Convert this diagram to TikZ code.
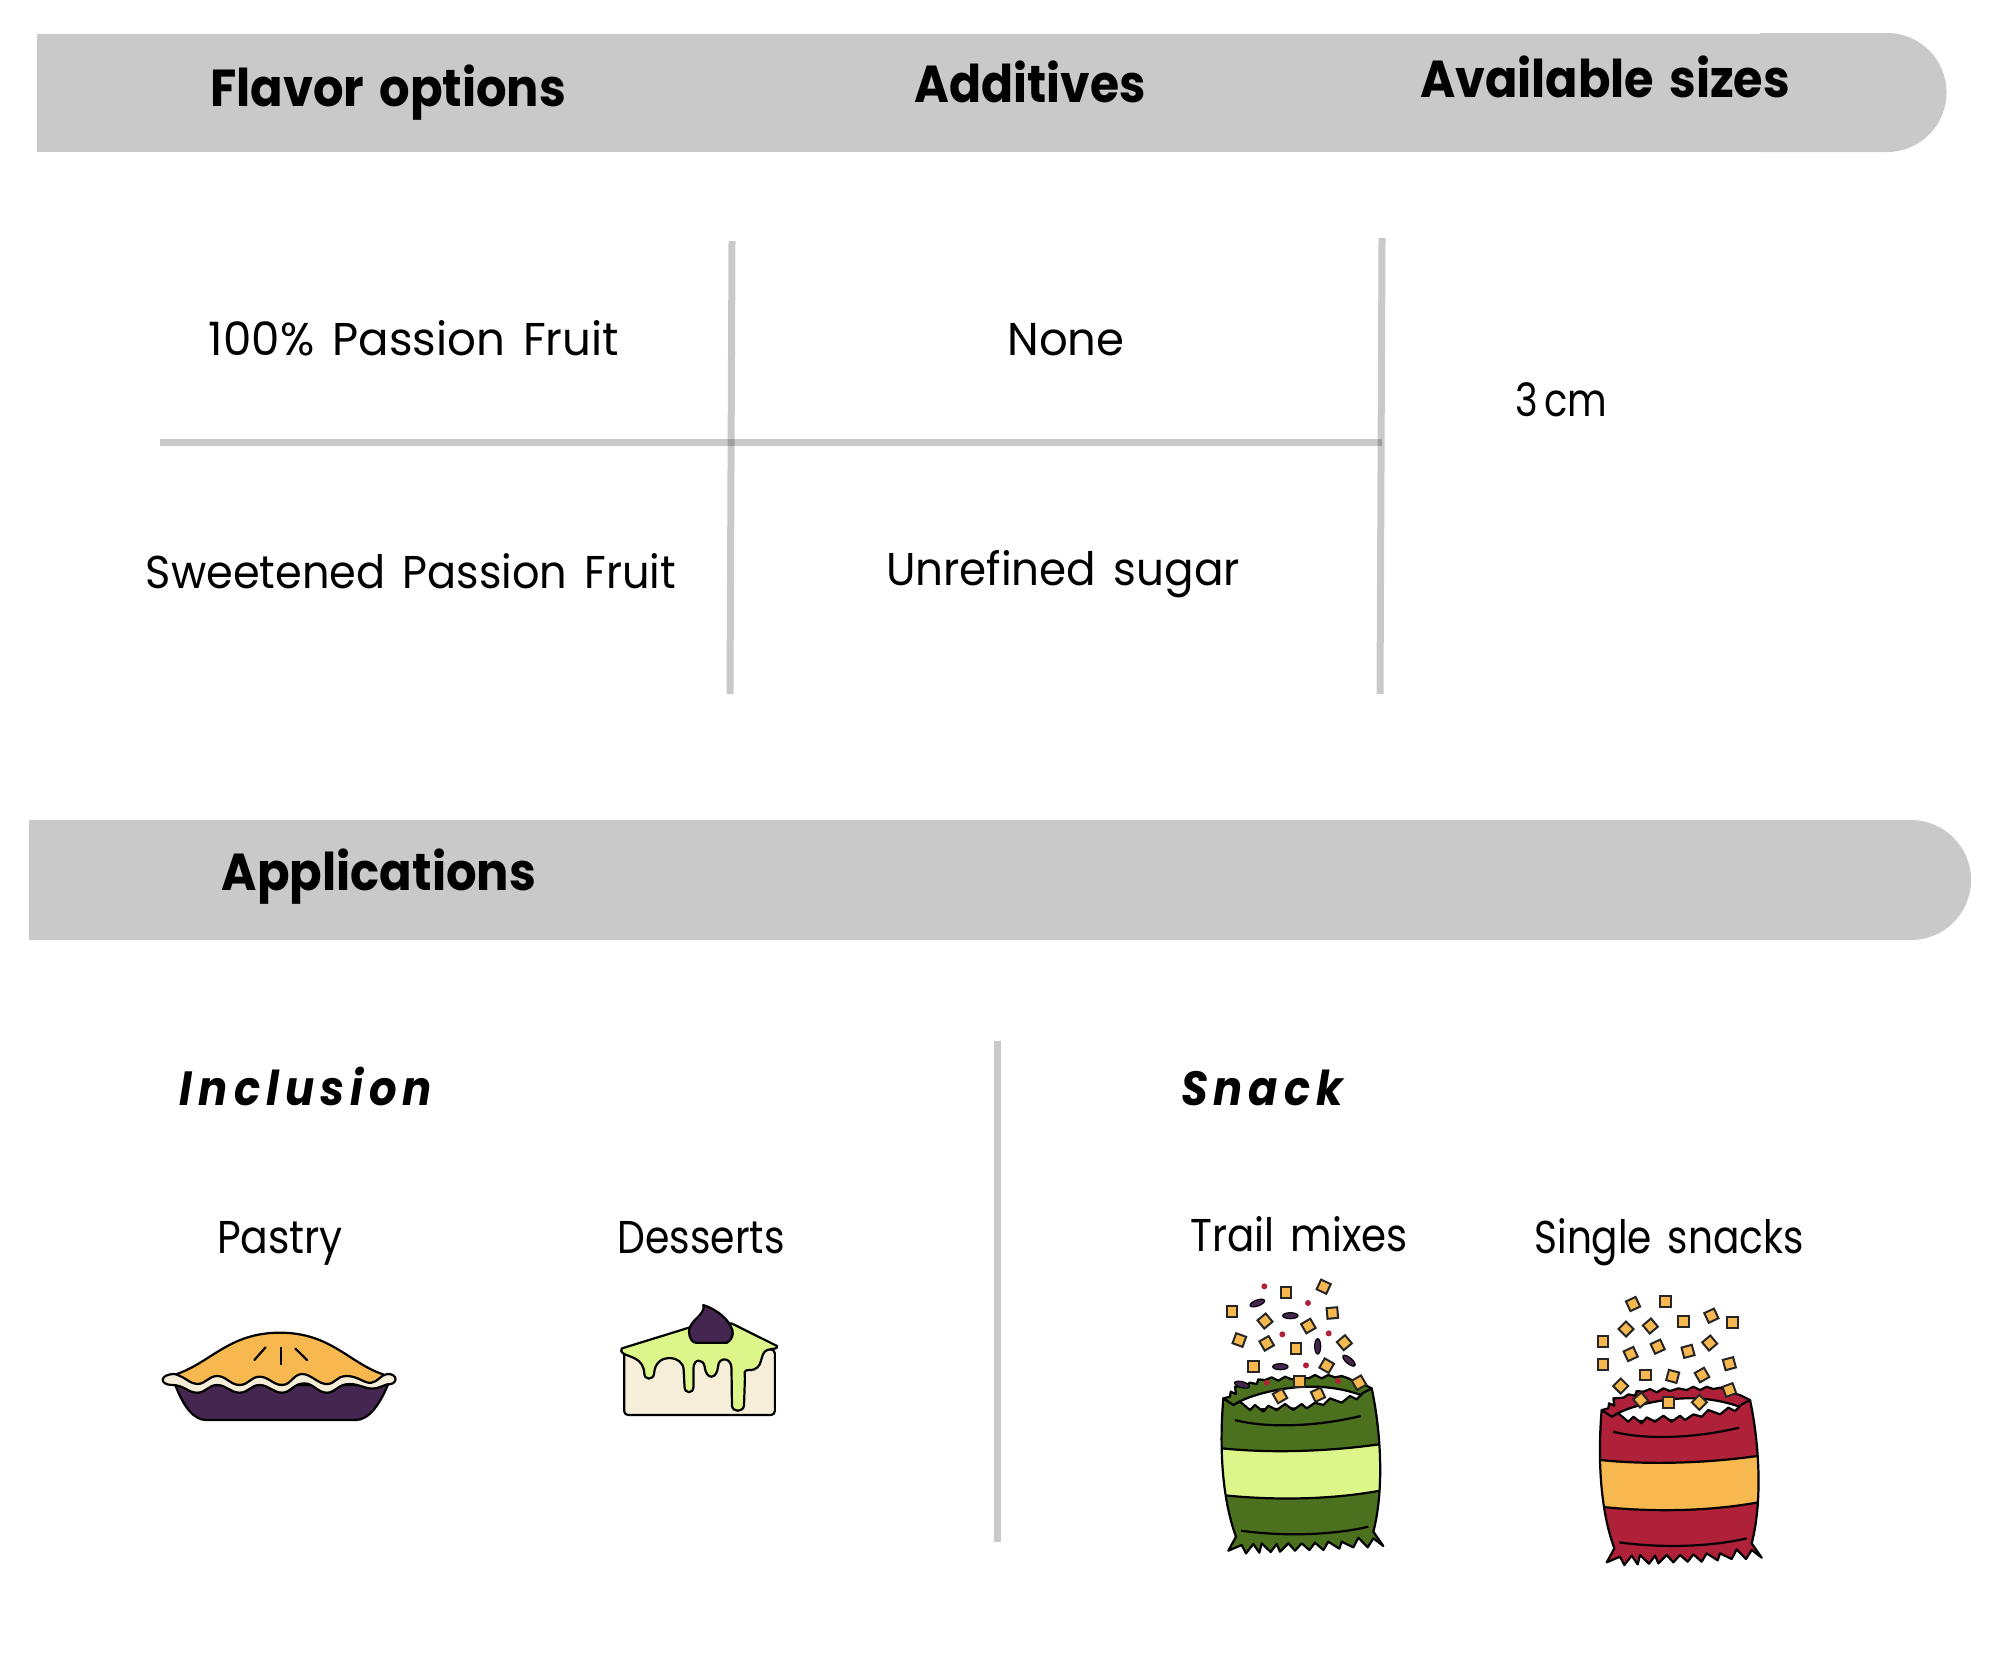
\documentclass[tikz,border=0pt]{standalone}
\usepackage{graphicx}
\usepackage{fontspec}
\setmainfont[WordSpace=1.5]{Poppins}
\definecolor{barGray}{HTML}{C9C9C9}
\definecolor{orangeC}{HTML}{F6B84F}
\definecolor{redC}{HTML}{AE2138}
\definecolor{greenC}{HTML}{4B711E}
\definecolor{limeC}{HTML}{DCF68A}
\definecolor{purpleC}{HTML}{452650}
\definecolor{creamC}{HTML}{F7EEDA}
\newcommand{\fitw}[2]{\resizebox{#1}{\height}{#2}}
\tikzset{
  bar/.style={fill=barGray,draw=none},
  rule/.style={draw=black,draw opacity=0.21,line width=3.5pt},
  head/.style={inner sep=0pt,anchor=base,font=\fontsize{26}{26}\selectfont\bfseries},
  body/.style={inner sep=0pt,anchor=base,font=\fontsize{23}{23}\selectfont},
  sub/.style={inner sep=0pt,anchor=base,font=\fontsize{24}{24}\selectfont\bfseries\itshape\addfontfeature{LetterSpace=14}},
  ink/.style={draw=black,line width=1.1pt,line join=round},
  chip/.style={draw=black!85,line width=1pt,fill=orangeC}
}
% icon helpers, coordinates in zoomed reference units
\newcommand{\chipat}[3]{\draw[chip,rotate around={#3:(#1,#2)}] (#1-16,#2-16) rectangle (#1+16,#2+16);}
\newcommand{\seedat}[3]{\draw[draw=black,line width=.6pt,fill=purpleC,rotate around={#3:(#1,#2)}] (#1,#2) ellipse (23 and 9);}
\def\bagbody{(70,415) -- (100,435) -- (120,425) -- (150,450) -- (165,435) -- (190,455) -- (205,437) -- (230,450) -- (255,432) -- (280,450) -- (305,432) -- (320,445) -- (345,428) -- (370,435) -- (390,415) -- (425,428) -- (450,408) -- (470,418) -- (490,398) -- (515,385) .. controls (540,500) and (555,680) .. (520,815) -- (550,858) -- (520,835) -- (503,862) -- (475,833) -- (460,862) -- (425,845) -- (418,866) -- (385,845) -- (370,870) -- (345,848) -- (328,870) -- (305,850) -- (285,872) -- (265,850) -- (240,875) -- (230,852) -- (212,876) -- (185,850) -- (178,878) -- (160,852) -- (138,880) -- (125,855) -- (85,872) -- (108,830) .. controls (60,700) and (60,530) .. (70,415) -- cycle}
\newcommand{\bagart}[2]{%
  \draw[ink,fill=#1] (70,415) -- (90,410) -- (92,395) -- (108,402) -- (105,380) -- (135,378) -- (150,368) -- (170,372) -- (175,358) -- (195,360) -- (215,352) -- (235,362) -- (255,350) -- (275,358) -- (300,350) -- (325,355) -- (345,345) -- (365,355) -- (385,345) -- (405,352) -- (425,348) -- (445,355) -- (465,365) -- (485,370) -- (515,385) -- (500,440) -- (100,440) -- cycle;
  \draw[ink,fill=white] (108,430) .. controls (170,395) and (280,378) .. (340,380) .. controls (400,380) and (460,395) .. (490,408) -- (490,440) -- (108,450) -- cycle;
  \fill[#1] \bagbody;
  \begin{scope}
    \clip \bagbody;
    \draw[ink,fill=#2] (40,562) .. controls (200,582) and (400,575) .. (570,548) -- (570,686) .. controls (400,722) and (200,722) .. (40,702) -- cycle;
  \end{scope}
  \draw[ink] \bagbody;
  \draw[ink] (105,480) .. controls (200,505) and (350,500) .. (482,468);
  \draw[ink] (123,812) .. controls (250,830) and (400,825) .. (505,800);
}
\begin{document}
\begin{tikzpicture}[x=0.5pt,y=-0.5pt]
\useasboundingbox (0,0) rectangle (2000,1667);
% header bars
\fill[bar] (37,33.5) rectangle (1770,151.5);
\fill[bar] (1760,33) -- (1887,33) arc[start angle=-90,end angle=90,radius=59.5] -- (1760,152) -- cycle;
\fill[bar] (29,820) -- (1911,820) arc[start angle=-90,end angle=90,radius=60] -- (29,940) -- cycle;
% rules
\coordinate (v1t) at (732,241); \coordinate (v1b) at (730,694);
\coordinate (v2t) at (1382,238); \coordinate (v2b) at (1380,694);
\coordinate (hl) at (160,442); \coordinate (hr) at (1382,442);
\coordinate (v3t) at (997,1041); \coordinate (v3b) at (997,1542);
\draw[rule] (v1t) -- (v1b);
\draw[rule] (v2t) -- (v2b);
\draw[rule] (hl) -- (hr);
\draw[rule] (v3t) -- (v3b);
% header text
\node[head] (flavorHead) at (388,106) {\fitw{178pt}{Flavor options}};
\node[head] (addHead) at (1030,102) {\fitw{115.5pt}{Additives}};
\node[head] (sizeHead) at (1605,97) {\fitw{185pt}{Available sizes}};
\node[body] (pure) at (414,355) {\fitw{205pt}{100\% Passion Fruit}};
\node[body] (none) at (1066,355) {\fitw{58.5pt}{None}};
\node[body] (three) at (1561,416) {\fitw{46pt}{3\,cm}};
\node[body] (sweet) at (411,588) {\fitw{265pt}{Sweetened Passion Fruit}};
\node[body] (sugar) at (1063,585) {\fitw{177pt}{Unrefined sugar}};
\node[head] (appHead) at (379,890) {\fitw{157pt}{Applications}};
\node[sub] (incl) at (306,1105) {\fitw{126pt}{Inclusion}};
\node[sub] (snack) at (1262,1105) {\fitw{81pt}{Snack}};
\node[body] (pastry) at (280,1253) {\fitw{63pt}{Pastry}};
\node[body] (dess) at (701,1253) {\fitw{83.5pt}{Desserts}};
\node[body] (trail) at (1299,1251) {\fitw{108.5pt}{Trail mixes}};
\node[body] (single) at (1669,1253) {\fitw{134.5pt}{Single snacks}};
% pie and cake (that crop's horizontal and vertical scales differ)
\begin{scope}[shift={(130,1270)},xscale=0.4472,yscale=1/3]
  \draw[ink,fill=purpleC] (100,340) .. controls (120,415) and (145,450) .. (170,450) -- (505,450) .. controls (535,450) and (560,400) .. (578,340) -- cycle;
  \draw[ink,fill=orangeC] (100,314) .. controls (180,280) and (220,188) .. (335,188) .. controls (450,188) and (490,280) .. (568,314) -- (568,345) -- (100,345) -- cycle;
  \draw[ink,fill=creamC] (100,312) .. controls (125,322) and (135,342) .. (150,342) .. controls (170,342) and (175,318) .. (195,318) .. controls (215,318) and (225,345) .. (245,345) .. controls (265,345) and (270,320) .. (290,320) .. controls (310,320) and (320,345) .. (340,345) .. controls (360,345) and (365,312) .. (385,312) .. controls (405,312) and (420,342) .. (440,342) .. controls (460,342) and (460,318) .. (485,318) .. controls (510,318) and (525,342) .. (540,338) .. controls (555,335) and (560,315) .. (575,312) .. controls (600,310) and (600,345) .. (575,343) .. controls (560,350) and (550,358) .. (535,355) .. controls (515,350) and (510,342) .. (490,342) .. controls (465,342) and (460,368) .. (440,368) .. controls (420,368) and (410,340) .. (390,340) .. controls (365,340) and (360,368) .. (340,368) .. controls (320,368) and (310,345) .. (290,345) .. controls (270,345) and (265,368) .. (245,368) .. controls (225,368) and (215,345) .. (195,345) .. controls (175,345) and (170,368) .. (150,368) .. controls (130,368) and (120,345) .. (95,345) .. controls (65,345) and (65,312) .. (100,312) -- cycle;
  \draw[ink] (337,232) -- (337,286);
  \draw[ink,line cap=round] (303,232) -- (278,270);
  \draw[ink,line cap=round] (370,236) -- (396,270);
  \draw[ink,fill=creamC,rounded corners=2pt] (1105,238) rectangle (1442,435);
  \draw[ink,fill=limeC] (1100,235) -- (1252,172) -- (1345,160) -- (1447,228) .. controls (1450,238) and (1435,235) .. (1425,240) .. controls (1405,250) and (1420,300) .. (1385,300) .. controls (1370,300) and (1375,310) .. (1375,325) -- (1373,405) .. controls (1372,428) and (1346,428) .. (1346,405) -- (1345,295) .. controls (1345,260) and (1315,260) .. (1315,290) .. controls (1312,330) and (1288,330) .. (1285,290) .. controls (1282,265) and (1260,265) .. (1260,295) -- (1260,350) .. controls (1260,372) and (1240,372) .. (1240,350) -- (1238,300) .. controls (1238,255) and (1175,245) .. (1172,310) .. controls (1170,332) and (1150,330) .. (1150,310) .. controls (1148,265) and (1120,262) .. (1105,252) .. controls (1097,245) and (1097,240) .. (1100,235) -- cycle;
  \draw[ink,fill=purpleC] (1282,105) .. controls (1288,135) and (1250,150) .. (1250,185) .. controls (1250,205) and (1258,218) .. (1265,218) -- (1335,218) .. controls (1345,210) and (1350,195) .. (1347,180) .. controls (1340,150) and (1315,120) .. (1282,105) -- cycle;
\end{scope}
% trail mix bag
\begin{scope}[shift={(1200,1260)},scale=1/3]
  \bagart{greenC}{limeC}
  \foreach \a/\b/\r in {258/98/0,371/80/-25,96/155/0,195/183/40,325/198/30,397/159/5,118/240/-20,200/250/30,288/266/0,433/248/40,160/320/0,380/317/-30,299/364/0,477/368/30,240/408/30,354/404/25}
    {\chipat{\a}{\b}{\r}}
  \foreach \a/\b/\r in {172/129/20,271/167/0,353/259/90,447/302/-40,241/320/0,126/374/-15}
    {\seedat{\a}{\b}{\r}}
  \foreach \a/\b in {193/79,324/129,247/223,386/220,318/316,200/368,414/363}
    {\fill[redC] (\a,\b) circle (9);}
\end{scope}
% single snacks bag
\begin{scope}[shift={(1570,1280)},scale=1/3]
  \begin{scope}[shift={(25,-25)}]
    \bagart{redC}{orangeC}
  \end{scope}
  \foreach \a/\b/\r in {189/72/25,286/64/0,340/124/0,424/107/25,488/127/0,168/147/45,241/138/40,99/184/0,263/200/25,354/214/15,419/189/40,182/222/25,99/253/0,478/251/15,226/285/0,308/289/-15,396/285/30,152/318/45,478/330/20,212/360/40,296/367/0,388/367/45}
    {\chipat{\a}{\b}{\r}}
\end{scope}
\end{tikzpicture}
\end{document}
